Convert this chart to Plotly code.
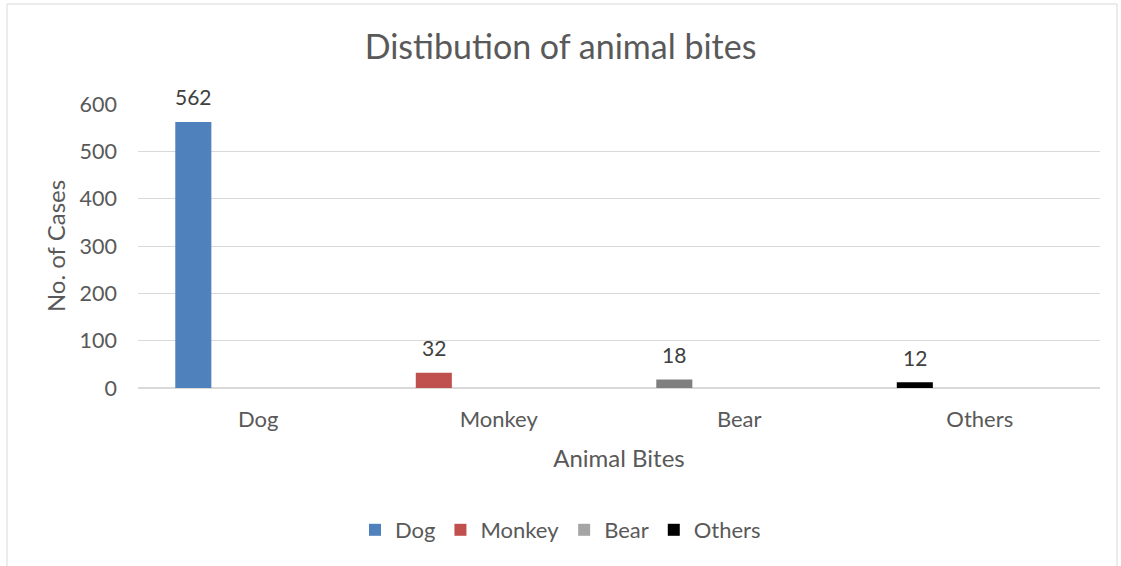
import plotly.graph_objects as go

categories = ["Dog", "Monkey", "Bear", "Others"]
cases = [562, 32, 18, 12]
bar_colors = ["#4f81bd", "#c0504d", "#7f7f7f", "#000000"]
legend_colors = ["#4f81bd", "#c0504d", "#a5a5a5", "#000000"]
y_ticks = [0, 100, 200, 300, 400, 500, 600]

FONT = "Lato"
TXT = "#595959"
BAR_W = 0.15
BAR_OFF = -0.345
PX_PER_CAT = 962 / 4

fig = go.Figure()
fig.add_trace(go.Bar(
    x=categories, y=cases,
    marker=dict(color=bar_colors, line=dict(width=0)),
    width=BAR_W, offset=BAR_OFF,
    showlegend=False, hoverinfo="x+y",
))
for name, col in zip(categories, legend_colors):
    fig.add_trace(go.Bar(x=[None], y=[None], name=name,
                         marker=dict(color=col, line=dict(width=0))))

for c, v in zip(categories, cases):
    fig.add_annotation(x=c, y=v, xref="x", yref="y", text=str(v), showarrow=False,
                       xshift=(BAR_OFF + BAR_W / 2) * PX_PER_CAT, yshift=25,
                       yanchor="middle",
                       font=dict(family=FONT, size=21, color="#404040"))

fig.update_layout(
    width=1121, height=566,
    paper_bgcolor="white", plot_bgcolor="white",
    margin=dict(l=138, r=21, t=104, b=178, autoexpand=False),
    font=dict(family=FONT, color=TXT, size=21),
    title=dict(text="Distibution of animal bites", x=0.5, xanchor="center",
               y=1 - 47 / 566, yanchor="middle",
               font=dict(family=FONT, size=34, color=TXT)),
    barmode="overlay",
    xaxis=dict(showgrid=False, showline=True, linecolor="#d9d9d9", linewidth=1,
               ticks="", tickfont=dict(size=22, color=TXT), ticklabelstandoff=12,
               automargin=False,
               title=dict(text="Animal Bites", font=dict(size=24, color=TXT), standoff=18)),
    yaxis=dict(range=[0, 600], tickvals=y_ticks, showgrid=True, gridcolor="#d9d9d9",
               gridwidth=1, zeroline=True, zerolinecolor="#d9d9d9", showline=False,
               ticks="", tickfont=dict(size=21.5, color=TXT), ticklabelstandoff=20,
               automargin=False,
               title=dict(text="No. of Cases", font=dict(size=24, color=TXT), standoff=7)),
    legend=dict(orientation="h", x=0.5, xanchor="center", xref="container",
                y=1 - 530 / 566, yanchor="middle", yref="container",
                font=dict(size=22, color=TXT), traceorder="normal",
                itemclick=False),
)
fig.add_shape(type="rect", xref="paper", yref="paper",
              x0=-131 / 962, x1=(1117 - 138) / 962, y0=-1, y1=1 + 100 / 284,
              line=dict(color="#d9d9d9", width=1), fillcolor="rgba(0,0,0,0)", layer="below")
fig.write_html("out.html")
